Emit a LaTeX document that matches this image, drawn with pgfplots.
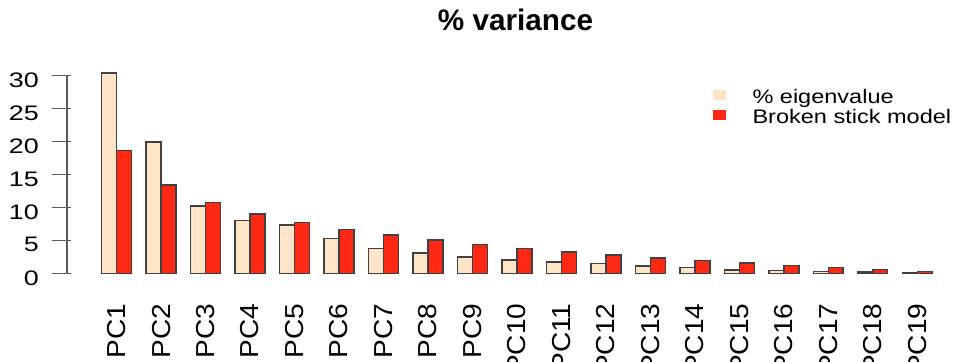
\documentclass[border=0pt]{standalone}
\usepackage{pgfplots}
\pgfplotsset{compat=1.18}
\usepackage{pgfplotstable}
\usepackage{graphicx}
\usepackage{fontspec}
\setmainfont{Liberation Sans}

\definecolor{eigfill}{HTML}{FFE4C8}
\definecolor{bsmfill}{HTML}{FF2812}
\definecolor{axisgray}{HTML}{5A5A5A}

% horizontally widened labels
\newcommand\ylab[1]{\scalebox{1.28}[1]{#1}}
\newcommand\pc[1]{\scalebox{1.08}[1]{PC#1}}
\newcommand\lgd[1]{\scalebox{1.2}[1]{#1}}

% pos = centre of each component's pair of bars
% eig = percent of variance, bsm = broken stick expectation
\pgfplotstableread{
pos eig  bsm
2   30.4 18.67
5   19.9 13.41
8   10.2 10.78
11  8.0  9.02
14  7.3  7.71
17  5.3  6.65
20  3.8  5.78
23  3.1  5.03
26  2.5  4.37
29  2.0  3.78
32  1.7  3.26
35  1.5  2.78
38  1.1  2.34
41  0.9  1.93
44  0.5  1.56
47  0.45 1.21
50  0.3  0.88
53  0.2  0.57
56  0.15 0.28
}\pcadata

\begin{document}
\begin{tikzpicture}
\path[use as bounding box] (0,0) rectangle (957pt,361pt);
\begin{axis}[
  at={(67pt,87.7pt)}, anchor=south west,
  x=14.83pt, y=6.587pt,
  xmin=-1.342, xmax=57.5, ymin=0, ymax=30,
  axis y line*=left, axis x line*=bottom,
  x axis line style={draw=none},
  y axis line style={draw=axisgray, line width=1.6pt},
  ytick={0,5,10,15,20,25,30},
  yticklabels={\ylab{0},\ylab{5},\ylab{10},\ylab{15},\ylab{20},\ylab{25},\ylab{30}},
  ytick style={draw=axisgray, line width=1.6pt},
  yticklabel style={font=\fontsize{21}{24}\selectfont, inner sep=0pt, anchor=east,
    xshift=-28pt, yshift=-4.5pt},
  xtick={2,5,8,11,14,17,20,23,26,29,32,35,38,41,44,47,50,53,56},
  xticklabels={\pc{1},\pc{2},\pc{3},\pc{4},\pc{5},\pc{6},\pc{7},\pc{8},\pc{9},\pc{10},
    \pc{11},\pc{12},\pc{13},\pc{14},\pc{15},\pc{16},\pc{17},\pc{18},\pc{19}},
  xtick style={draw=none},
  xticklabel style={font=\fontsize{26}{30}\selectfont, rotate=90, anchor=east,
    inner sep=0pt, xshift=-30pt},
  clip=false,
  title={\% variance},
  title style={at={(0.514,1.197)}, anchor=base, inner sep=0pt,
    font=\bfseries\fontsize{29.7}{34}\selectfont},
  legend cell align=left,
  legend style={at={(0.7403,0.9276)}, anchor=north west, draw=none, fill=none,
    inner sep=0pt, outer sep=0pt, row sep=0.3pt, column sep=27pt,
    nodes={inner sep=0pt, text height=14pt, text depth=5pt},
    font=\fontsize{19.6}{22}\selectfont},
]
\addplot[ybar, bar width=1, bar shift=0pt, fill=eigfill, draw=black!75, line width=1.5pt,
  legend image code/.code={\fill[eigfill] (0pt,0pt) rectangle (11pt,8.5pt);}]
  table[x expr=\thisrow{pos}-0.5, y=eig] {\pcadata};
\addlegendentry{\lgd{\% eigenvalue}}
\addplot[ybar, bar width=1, bar shift=0pt, fill=bsmfill, draw=black!75, line width=1.5pt,
  legend image code/.code={\fill[bsmfill] (0pt,0pt) rectangle (11pt,8.5pt);}]
  table[x expr=\thisrow{pos}+0.5, y=bsm] {\pcadata};
\addlegendentry{\lgd{Broken stick model}}
% outward tick marks on the value axis
\pgfplotsinvokeforeach{0,5,10,15,20,25,30}{
  \draw[axisgray, line width=1.6pt] (axis cs:-1.342,#1) -- ++(-15pt,0pt);
}
\end{axis}
\end{tikzpicture}
\end{document}
